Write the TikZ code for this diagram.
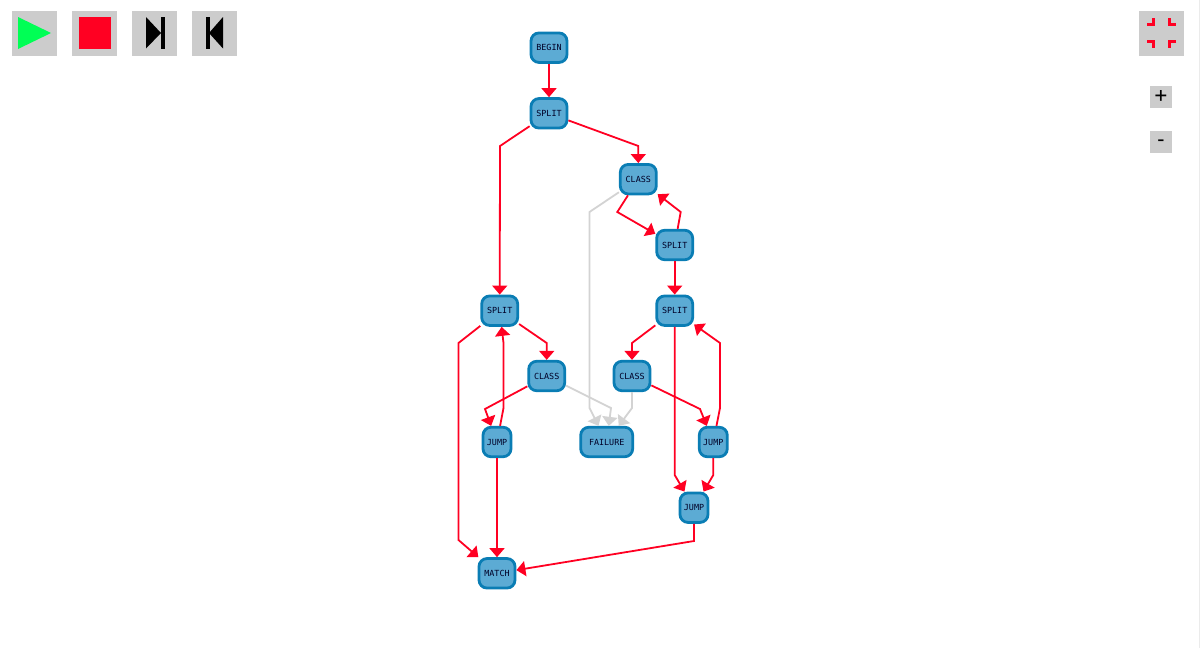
\documentclass[tikz,border=0pt]{standalone}
\usepackage{fontspec}
\setmonofont{DejaVu Sans Mono}
\usetikzlibrary{arrows.meta}
\definecolor{nodeblue}{RGB}{92,171,212}
\definecolor{edgeblue}{RGB}{10,125,180}
\definecolor{tracered}{RGB}{255,0,34}
\definecolor{playgreen}{RGB}{0,255,85}
\definecolor{btngray}{RGB}{204,204,204}
\definecolor{idlegray}{RGB}{211,211,211}

\begin{document}
\begin{tikzpicture}[
  x=1pt, y=-1pt,
  op/.style={draw=edgeblue, fill=nodeblue, rounded corners=8pt, line width=2.8pt, inner sep=0pt,
    minimum width=36pt, minimum height=29.5pt, font=\ttfamily\fontsize{8.4}{10}\selectfont, text=black!85!blue},
  narrow/.style={minimum width=28pt},
  wide/.style={minimum width=52pt},
  hit/.style={draw=tracered, line width=1.8pt, -{Triangle[length=9pt,width=15pt]}},
  idle/.style={draw=idlegray, line width=1.8pt, -{Triangle[length=9pt,width=15pt]}},
  btn/.style={fill=btngray, inner sep=0pt, minimum size=45pt},
  zoombtn/.style={fill=btngray, inner sep=0pt, minimum size=22pt},
  glyph/.style={font=\ttfamily\fontsize{21}{21}\selectfont, inner sep=0pt},
  corner/.style={draw=tracered, line width=3pt}]
\useasboundingbox (0,0) rectangle (1200,648);
\fill[black!8] (1199,0) rectangle (1200,648);
% toolbar
\node[btn] (play) at (34.5,33) {};
\node[btn] (stop) at (94.5,33) {};
\node[btn] (stepfwd) at (154.5,33) {};
\node[btn] (stepback) at (214.5,33) {};
\node[btn] (fit) at (1161.5,33) {};
\node[zoombtn] (plus) at (1161,97) {};
\node[zoombtn] (minus) at (1161,142) {};
\node[glyph] (plustext) at (1161,96) {+};
\node[glyph] (minustext) at (1161,143.5) {-};
\fill[playgreen] (18,17) -- (51,33) -- (18,49) -- cycle;
\fill[tracered] (79,17) rectangle (110.5,48.5);
\fill[black] (146,17) -- (161,33) -- (146,48.5) -- cycle;
\fill[black] (161,17) rectangle (165,48.5);
\fill[black] (223,17) -- (209,33) -- (223,48.5) -- cycle;
\fill[black] (206,17) rectangle (209.5,48.5);
\draw[corner] (1147,24) -- (1153,24) -- (1153,18);
\draw[corner] (1169.5,18) -- (1169.5,24) -- (1176,24);
\draw[corner] (1147,41) -- (1153,41) -- (1153,48);
\draw[corner] (1176,41) -- (1169.5,41) -- (1169.5,48);
% graph nodes
\node[op] (begin) at (549,47.7) {BEGIN};
\node[op] (split1) at (549,113.3) {SPLIT};
\node[op] (class1) at (638.3,179.2) {CLASS};
\node[op] (split2) at (674.7,245) {SPLIT};
\node[op] (split3) at (499.7,310.7) {SPLIT};
\node[op] (split4) at (674.7,310.7) {SPLIT};
\node[op] (class2) at (546.7,376) {CLASS};
\node[op] (class3) at (632,376) {CLASS};
\node[op, narrow] (jump1) at (497,442) {JUMP};
\node[op, wide] (failure) at (606.7,442) {FAILURE};
\node[op, narrow] (jump2) at (713.3,442) {JUMP};
\node[op, narrow] (jump3) at (694,507.7) {JUMP};
\node[op] (match) at (497,573.3) {MATCH};
% bend points
\coordinate (b1) at (500,146);
\coordinate (b2) at (638.3,146);
\coordinate (b3) at (617.3,212);
\coordinate (b4) at (680.7,212);
\coordinate (b5) at (589.5,212);
\coordinate (b6) at (589.5,408);
\coordinate (b7) at (546.7,343);
\coordinate (b8) at (458.5,343);
\coordinate (b9) at (458.5,540);
\coordinate (b10) at (485,409);
\coordinate (b11) at (503.5,408);
\coordinate (b12) at (503.5,343);
\coordinate (b13) at (611,408);
\coordinate (b14) at (632,408);
\coordinate (b15) at (632,343);
\coordinate (b16) at (700,409);
\coordinate (b17) at (720,408);
\coordinate (b18) at (720,343);
\coordinate (b19) at (674.7,475);
\coordinate (b20) at (713.3,475);
\coordinate (b21) at (694,541);
% not taken
\draw[idle] (class1) -- (b5) -- (b6) -- (failure);
\draw[idle] (class2) -- (b13) -- (failure);
\draw[idle] (class3) -- (b14) -- (failure);
% taken
\draw[hit] (begin) -- (split1);
\draw[hit] (split1) -- (b1) -- (split3);
\draw[hit] (split1) -- (b2) -- (class1);
\draw[hit] (class1) -- (b3) -- (split2);
\draw[hit] (split2) -- (b4) -- (class1);
\draw[hit] (split2) -- (split4);
\draw[hit] (split3) -- (b7) -- (class2);
\draw[hit] (split3) -- (b8) -- (b9) -- (match);
\draw[hit] (class2) -- (b10) -- (jump1);
\draw[hit] (jump1) -- (b11) -- (b12) -- (split3);
\draw[hit] (jump1) -- (match);
\draw[hit] (split4) -- (b15) -- (class3);
\draw[hit] (class3) -- (b16) -- (jump2);
\draw[hit] (jump2) -- (b17) -- (b18) -- (split4);
\draw[hit] (split4) -- (b19) -- (jump3);
\draw[hit] (jump2) -- (b20) -- (jump3);
\draw[hit] (jump3) -- (b21) -- (match);
\end{tikzpicture}
\end{document}
